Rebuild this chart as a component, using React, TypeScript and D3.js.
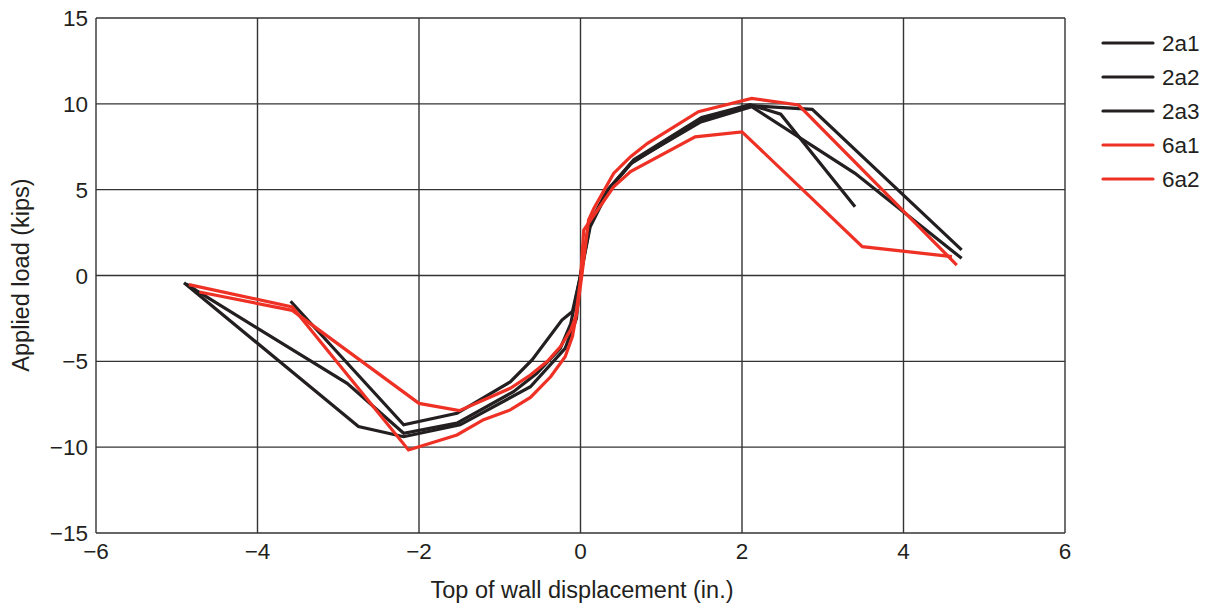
import React from "react";
import * as d3 from "d3";

type Pt = [number, number];

const xTicks = [-6, -4, -2, 0, 2, 4, 6];
const yTicks = [-15, -10, -5, 0, 5, 10, 15];

const s2a1: Pt[] = [
  [-4.91, -0.42], [-2.75, -8.8], [-2.19, -9.39], [-1.49, -8.7], [-0.62, -6.48],
  [-0.19, -4.24], [-0.05, -2.5], [0, 0], [0.1, 2.9], [0.33, 4.95], [0.62, 6.5],
  [1.49, 9.06], [2.1, 9.9], [2.87, 9.68], [4.72, 1.49],
];
const s2a2: Pt[] = [
  [-4.88, -0.5], [-4.75, -0.9], [-2.89, -6.28], [-2.19, -9.19], [-1.53, -8.6],
  [-0.83, -6.77], [-0.54, -5.7], [-0.25, -4.24], [-0.12, -2.8], [0, 0],
  [0.12, 2.84], [0.35, 5.0], [0.64, 6.6], [1.49, 8.95], [2.12, 9.83],
  [3.4, 5.95], [4.72, 1.0],
];
const s2a3: Pt[] = [
  [-3.59, -1.5], [-2.19, -8.7], [-1.53, -8.03], [-0.87, -6.2], [-0.6, -4.92],
  [-0.23, -2.6], [-0.1, -2.1], [0, 0], [0.12, 3.0], [0.36, 5.1], [0.66, 6.75],
  [1.5, 9.2], [2.1, 9.95], [2.48, 9.4], [3.4, 4.0],
];
const s6a1: Pt[] = [
  [-4.85, -0.53], [-3.57, -1.83], [-2.13, -10.16], [-1.53, -9.29], [-1.2, -8.4],
  [-0.87, -7.83], [-0.62, -7.1], [-0.37, -5.9], [-0.19, -4.73], [-0.1, -3.56],
  [-0.04, -2.0], [0.02, 0.13], [0.1, 3.23], [0.165, 3.9], [0.41, 5.95],
  [0.62, 6.92], [0.83, 7.7], [1.46, 9.54], [2.12, 10.32], [2.7, 9.93],
  [4.66, 0.61],
];
const s6a2: Pt[] = [
  [-4.72, -0.96], [-3.57, -2.03], [-2.0, -7.45], [-1.5, -7.87], [-1.2, -7.25],
  [-0.87, -6.57], [-0.62, -5.8], [-0.41, -5.0], [-0.25, -4.15], [-0.12, -3.17],
  [-0.06, -2.4], [0, -0.26], [0.04, 2.65], [0.41, 5.17], [0.62, 6.05],
  [1.42, 8.08], [2.0, 8.37], [3.49, 1.68], [4.6, 1.1],
];

const seriesNames = ["2a1", "2a2", "2a3", "6a1", "6a2"];
const seriesData = [s2a1, s2a2, s2a3, s6a1, s6a2];
const BLACK = "#231f20";
const RED = "#ee3124";
const seriesColors = [BLACK, BLACK, BLACK, RED, RED];

const W = 1207;
const H = 606;
const left = 96;
const right = 1065;
const top = 18;
const bottom = 533;
const FONT = "'Liberation Sans', Arial, sans-serif";

function fmt(v: number) {
  return v < 0 ? "\u2212" + Math.abs(v) : String(v);
}

export default function App() {
  const x = d3.scaleLinear().domain([-6, 6]).range([left, right]);
  const y = d3.scaleLinear().domain([-15, 15]).range([bottom, top]);
  const line = d3
    .line<Pt>()
    .x((d) => x(d[0]))
    .y((d) => y(d[1]));
  const grid = "#333333";

  return (
    <svg
      width={W}
      height={H}
      style={{ position: "absolute", left: 0, top: 0, background: "#fff" }}
      fontFamily={FONT}
    >
      <rect x={0} y={0} width={W} height={H} fill="#fff" />
      {xTicks.map((t) => (
        <line key={"gx" + t} x1={x(t)} x2={x(t)} y1={top} y2={bottom} stroke={grid} strokeWidth={1.4} />
      ))}
      {yTicks.map((t) => (
        <line key={"gy" + t} x1={left} x2={right} y1={y(t)} y2={y(t)} stroke={grid} strokeWidth={1.4} />
      ))}
      {seriesData.map((d, i) => (
        <path
          key={seriesNames[i]}
          d={line(d) || ""}
          fill="none"
          stroke={seriesColors[i]}
          strokeWidth={3.2}
          strokeLinejoin="miter"
          strokeLinecap="butt"
        />
      ))}
      {xTicks.map((t) => (
        <text key={"tx" + t} x={x(t)} y={559} textAnchor="middle" fontSize={22.5} fill="#231f20">
          {fmt(t)}
        </text>
      ))}
      {yTicks.map((t) => (
        <text key={"ty" + t} x={88} y={y(t) + 8} textAnchor="end" fontSize={22.5} fill="#231f20">
          {fmt(t)}
        </text>
      ))}
      <text x={582} y={598} textAnchor="middle" fontSize={23.5} fill="#231f20">
        Top of wall displacement (in.)
      </text>
      <text
        transform={`translate(29, 275) rotate(-90)`}
        textAnchor="middle"
        fontSize={23.5}
        fill="#231f20"
      >
        Applied load (kips)
      </text>
      {seriesNames.map((n, i) => (
        <g key={"lg" + n}>
          <line
            x1={1103}
            x2={1153}
            y1={43 + i * 34}
            y2={43 + i * 34}
            stroke={seriesColors[i]}
            strokeWidth={3.2}
            strokeLinecap="round"
          />
          <text x={1162} y={43 + i * 34 + 8} fontSize={22.5} fill="#231f20">
            {n}
          </text>
        </g>
      ))}
    </svg>
  );
}
